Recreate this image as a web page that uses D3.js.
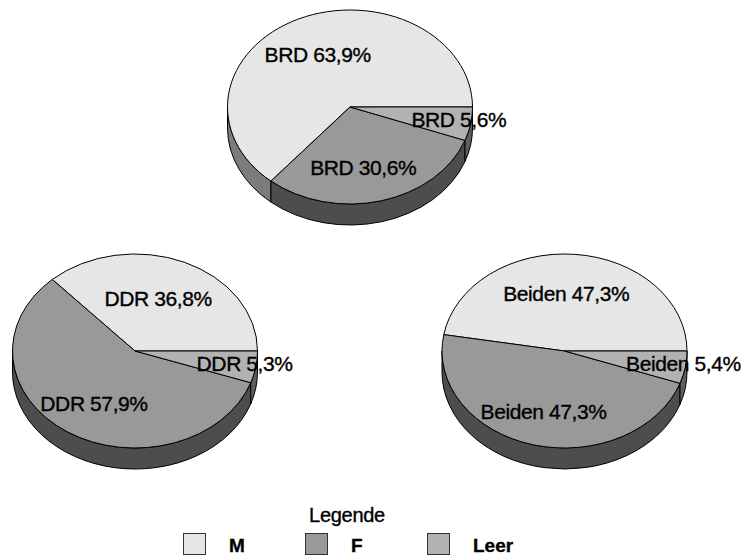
<!DOCTYPE html>
<html>
<head>
<meta charset="utf-8">
<script src="https://cdn.jsdelivr.net/npm/d3@7"></script>
<style>
  html, body { margin: 0; padding: 0; background: #fff; }
  svg { display: block; }
  text { font-family: "Liberation Sans", Arial, Helvetica, sans-serif; fill: #000; stroke: #000; stroke-width: 0.35px; }
</style>
</head>
<body>
<svg id="chart" width="743" height="556"></svg>
<script>
// Share of M, F and "Leer" answers per group
const categories = ["M", "F", "Leer"];
const groups = ["BRD", "DDR", "Beiden"];
const brdValues = [63.9, 30.6, 5.6];
const ddrValues = [36.8, 57.9, 5.3];
const beidenValues = [47.3, 47.3, 5.4];
const legendTitle = "Legende";

const topColors = ["#e6e6e6", "#999999", "#b2b2b2"];
const sideColors = ["#7c7c7c", "#4d4d4d", "#5e5e5e"];

const svg = d3.select("#chart");

const rx = 122.5, ry = 97, depth = 21;
const pies = [
  { name: groups[0], values: brdValues, cx: 350, cy: 107 },
  { name: groups[1], values: ddrValues, cx: 135, cy: 351 },
  { name: groups[2], values: beidenValues, cx: 564.5, cy: 351 }
];

// angles: counter-clockwise from 3 o'clock, first slice starts at 0
const pieLayout = d3.pie().sort(null).startAngle(0).endAngle(2 * Math.PI);
const fmt = v => d3.format(".1f")(v).replace(".", ",") + "%";

function pt(p, t, dy = 0) {
  return [p.cx + rx * Math.cos(t), p.cy - ry * Math.sin(t) + dy];
}

pies.forEach(p => {
  const g = svg.append("g");
  const arcs = pieLayout(p.values);

  // front walls (lower half of the ellipse)
  arcs.forEach((a, i) => {
    const s = Math.max(a.startAngle, Math.PI), e = Math.min(a.endAngle, 2 * Math.PI);
    if (e <= s) return;
    const [x0, y0] = pt(p, s), [x1, y1] = pt(p, e);
    const path = `M${x0},${y0} A${rx},${ry} 0 0 0 ${x1},${y1} L${x1},${y1 + depth} A${rx},${ry} 0 0 1 ${x0},${y0 + depth} Z`;
    g.append("path").attr("d", path)
      .attr("fill", sideColors[i]).attr("stroke", "#000").attr("stroke-width", 1)
      .attr("stroke-linejoin", "round");
  });

  // top faces
  arcs.forEach((a, i) => {
    const [x0, y0] = pt(p, a.startAngle), [x1, y1] = pt(p, a.endAngle);
    const large = (a.endAngle - a.startAngle) > Math.PI ? 1 : 0;
    const path = `M${p.cx},${p.cy} L${x0},${y0} A${rx},${ry} 0 ${large} 0 ${x1},${y1} Z`;
    g.append("path").attr("d", path)
      .attr("fill", topColors[i]).attr("stroke", "#000").attr("stroke-width", 1)
      .attr("stroke-linejoin", "round");
  });

  // slice labels
  arcs.forEach((a, i) => {
    const mid = (a.startAngle + a.endAngle) / 2;
    const small = a.data < 10;
    let x, anchor;
    if (small) {
      x = p.cx + rx * 0.51 * Math.cos(mid);
      anchor = "start";
    } else {
      x = p.cx + rx * 0.55 * Math.cos(mid) - 4;
      anchor = "middle";
    }
    const y = p.cy - ry * 0.62 * Math.sin(mid) + 2.5;
    g.append("text")
      .attr("x", x).attr("y", y).attr("dy", "0.35em")
      .attr("text-anchor", anchor)
      .style("font-size", "21px")
      .style("letter-spacing", "-0.4px")
      .text(`${p.name} ${fmt(a.data)}`);
  });
});

// legend
const legend = svg.append("g");
legend.append("text")
  .attr("x", 347).attr("y", 522)
  .attr("text-anchor", "middle")
  .style("font-size", "20px")
  .style("letter-spacing", "-0.3px")
  .text(legendTitle);

const legendX = d3.scalePoint().domain(categories).range([183, 427]);
categories.forEach((c, i) => {
  const x = legendX(c);
  legend.append("rect")
    .attr("x", x + 0.5).attr("y", 533.5).attr("width", 22).attr("height", 21)
    .attr("fill", topColors[i]).attr("stroke", "#333").attr("stroke-width", 1);
  legend.append("text")
    .attr("x", x + 46).attr("y", 552)
    .style("font-size", "19px").style("font-weight", "bold")
    .text(c);
});
</script>
</body>
</html>
